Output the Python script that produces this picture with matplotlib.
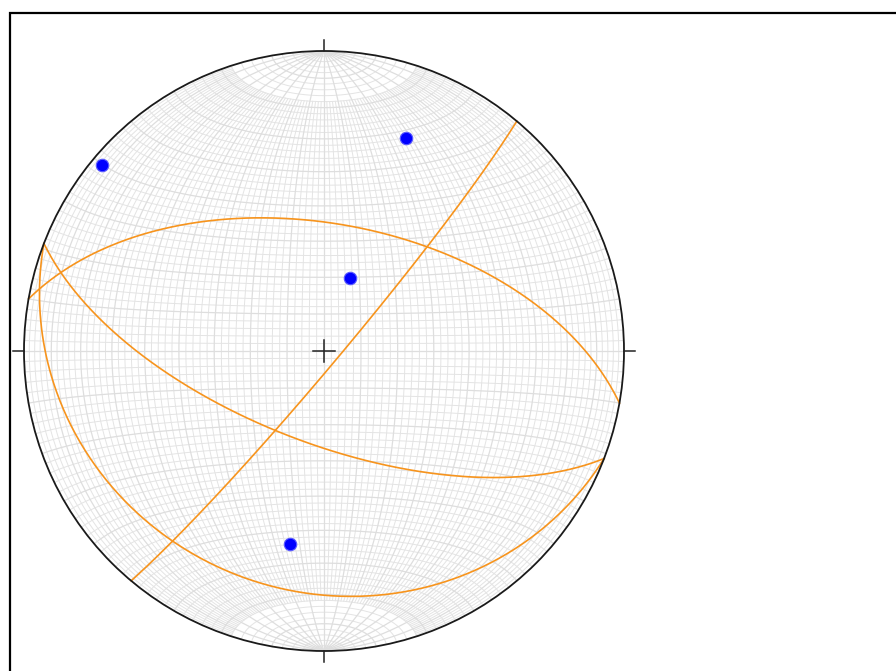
import numpy as np
import matplotlib
matplotlib.use("Agg")
import matplotlib.pyplot as plt
from matplotlib.patches import Circle, Rectangle

# planes (right-hand rule strike / dip, degrees)
plane_strike = [40, 280, 111, 111]
plane_dip = [86, 55, 21, 65]

# lines (trend / plunge, degrees)
line_trend = [310, 21, 20, 190]
line_plunge = [4, 25, 69, 35]


def project(e, n, d):
    # lower hemisphere equal-area, unit radius at the primitive
    k = 1.0 / np.sqrt(1.0 + d)
    return e * k, n * k


def great_circle(strike, dip, num=361):
    s = np.radians(strike)
    dd = s + np.pi / 2
    d = np.radians(dip)
    a = np.linspace(0, np.pi, num)
    sv = np.array([np.sin(s), np.cos(s), 0.0])
    dv = np.array([np.sin(dd) * np.cos(d), np.cos(dd) * np.cos(d), np.sin(d)])
    v = np.outer(np.cos(a), sv) + np.outer(np.sin(a), dv)
    return project(v[:, 0], v[:, 1], v[:, 2])


def line_point(trend, plunge):
    t = np.radians(np.asarray(trend, float))
    p = np.radians(np.asarray(plunge, float))
    return project(np.sin(t) * np.cos(p), np.cos(t) * np.cos(p), np.sin(p))


def meridian(lon, lat_cap, num=200):
    lam = np.radians(lon)
    phi = np.radians(np.linspace(-lat_cap, lat_cap, num))
    return project(np.cos(phi) * np.sin(lam), np.sin(phi), np.cos(phi) * np.cos(lam))


def parallel(lat, num=200):
    phi = np.radians(lat)
    lam = np.radians(np.linspace(-90, 90, num))
    return project(np.cos(phi) * np.sin(lam), np.sin(phi) * np.ones_like(lam),
                   np.cos(phi) * np.cos(lam))


W, H = 896, 671
cx, cy, R = 324, 351, 300

fig = plt.figure(figsize=(W / 100, H / 100), dpi=100)
ax = fig.add_axes([0, 0, 1, 1])
ax.set_xlim(-cx / R, (W - cx) / R)
ax.set_ylim(-(H - cy) / R, cy / R)
ax.set_aspect("equal")
ax.axis("off")

# outer frame (cropped screenshot look)
fig.add_artist(Rectangle((9.5 / W, -0.05), 1.0, 1 - 12.5 / H + 0.05,
                         transform=fig.transFigure, fill=False,
                         ec="black", lw=1.6))

# grid
fine = dict(color="#e4e4e4", lw=0.7, zorder=1)
coarse = dict(color="#dedede", lw=0.9, zorder=1)
for lon in range(-88, 90, 2):
    if lon % 10 == 0:
        continue
    ax.plot(*meridian(lon, 72), **fine)
for lat in range(-88, 90, 2):
    if lat % 10 == 0:
        continue
    ax.plot(*parallel(lat), **fine)
for lon in range(-80, 90, 10):
    ax.plot(*meridian(lon, 90), **coarse)
for lat in range(-80, 90, 10):
    ax.plot(*parallel(lat), **coarse)

# primitive circle, ticks and centre cross
ax.add_patch(Circle((0, 0), 1, fill=False, ec="#1a1a1a", lw=1.3, zorder=5))
tick = 0.038
for ang in np.radians([0, 90, 180, 270]):
    ax.plot([np.sin(ang), (1 + tick) * np.sin(ang)],
            [np.cos(ang), (1 + tick) * np.cos(ang)], color="#222222", lw=1.1, zorder=5)
cs = 0.036
ax.plot([-cs, cs], [0, 0], color="#222222", lw=1.1, zorder=5)
ax.plot([0, 0], [-cs, cs], color="#222222", lw=1.1, zorder=5)

# planes
for s, d in zip(plane_strike, plane_dip):
    ax.plot(*great_circle(s, d), color="#f7941d", lw=1.2, zorder=3)

# lines
px, py = line_point(line_trend, line_plunge)
ax.plot(px, py, "o", color="blue", ms=9, mec="#5c5cff", mew=0.8, zorder=4)

fig.savefig("out.png", dpi=100)
